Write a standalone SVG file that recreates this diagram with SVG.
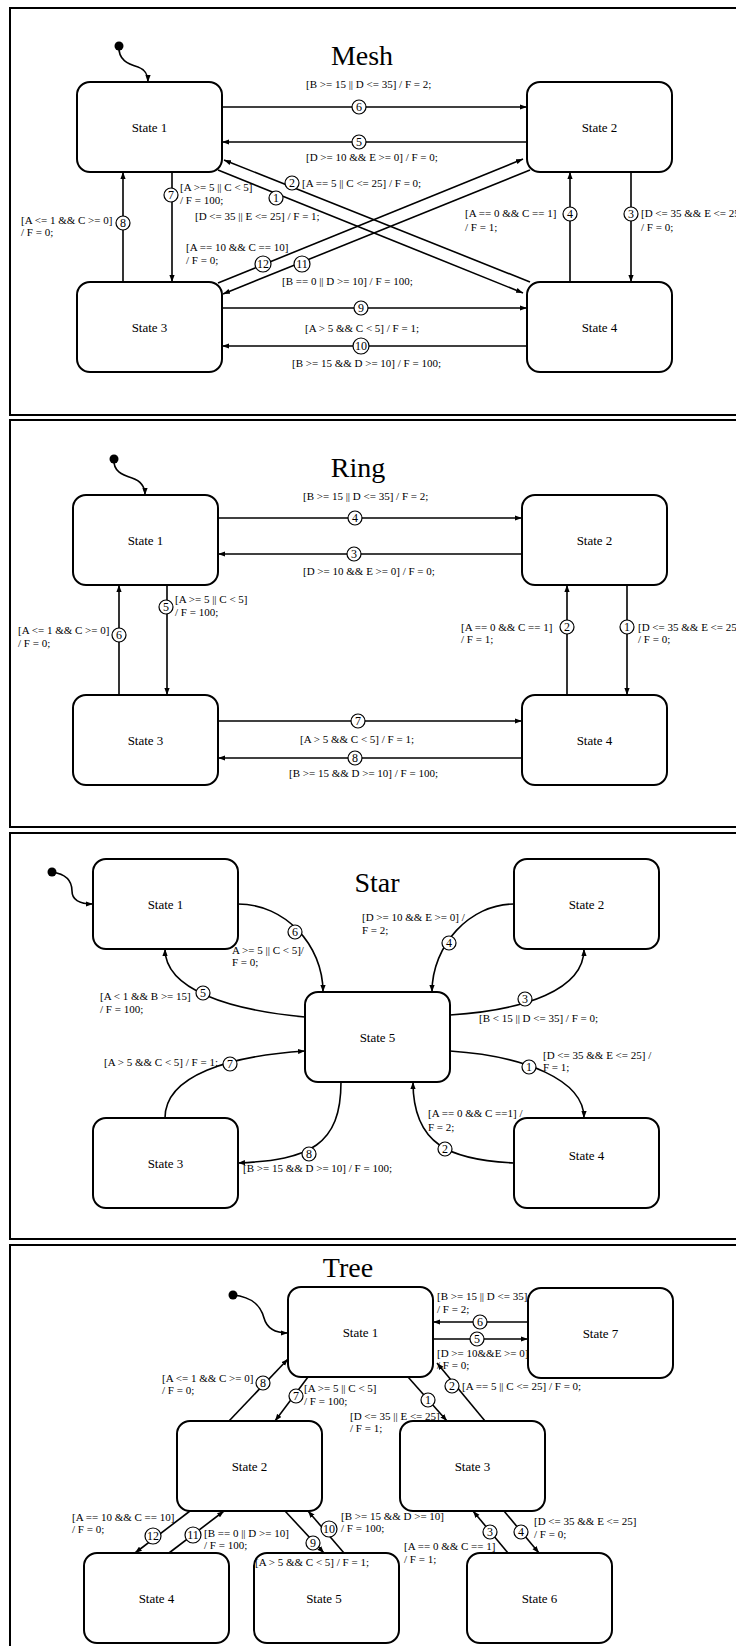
<svg xmlns="http://www.w3.org/2000/svg" width="736" height="1646" viewBox="0 0 736 1646">
  <defs>
    <marker id="arr" markerWidth="8" markerHeight="6" refX="7" refY="3" orient="auto" markerUnits="userSpaceOnUse">
      <path d="M0,0.4 L7,3 L0,5.6 z" fill="#000"/>
    </marker>
    <style>
      text { font-family: "Liberation Serif", "Times New Roman", serif; fill: #000; }
      .frame { fill: none; stroke: #000; stroke-width: 2; }
      .title { font-size: 28px; text-anchor: middle; }
      .node rect { fill: #fff; stroke: #000; stroke-width: 2; }
      .node text { font-size: 13px; text-anchor: middle; }
      .edge { fill: none; stroke: #000; stroke-width: 1.6; marker-end: url(#arr); }
      .tag circle { fill: #fff; stroke: #000; stroke-width: 1.2; }
      .tag text { font-size: 12px; text-anchor: middle; }
      .lbl { font-size: 11px; }
      .start { fill: #000; }
    </style>
  </defs>
  <rect width="736" height="1646" fill="#fff"/>

  <!-- ===================== Mesh ===================== -->
  <g id="mesh">
    <rect class="frame" x="10" y="8" width="760" height="407"/>
    <text class="title" x="362" y="65">Mesh</text>
    <g id="mesh-s1" class="node"><rect x="77" y="82" width="145" height="90" rx="13"/><text x="149.5" y="131.5">State 1</text></g>
    <g id="mesh-s2" class="node"><rect x="527" y="82" width="145" height="90" rx="13"/><text x="599.5" y="131.5">State 2</text></g>
    <g id="mesh-s3" class="node"><rect x="77" y="282" width="145" height="90" rx="13"/><text x="149.5" y="331.5">State 3</text></g>
    <g id="mesh-s4" class="node"><rect x="527" y="282" width="145" height="90" rx="13"/><text x="599.5" y="331.5">State 4</text></g>
    <g id="mesh-connectors">
      <circle class="start" cx="119" cy="46" r="4.5"/>
      <path class="edge" d="M119,46 C118,60 128,64 138,67 C146,70 148,75 148,82"/>
      <path class="edge" d="M222,107 H527"/>
      <path class="edge" d="M527,142 H222"/>
      <path class="edge" d="M172,172 V282"/>
      <path class="edge" d="M123,282 V172"/>
      <path class="edge" d="M570,282 V172"/>
      <path class="edge" d="M631,172 V282"/>
      <path class="edge" d="M222,308 H527"/>
      <path class="edge" d="M527,346 H222"/>
      <path class="edge" d="M218,170 L523,293"/>
      <path class="edge" d="M530,282 L224,160"/>
      <path class="edge" d="M218,283 L523,159"/>
      <path class="edge" d="M530,170 L223,294"/>
      <g class="tag"><circle cx="359" cy="107" r="7"/><text x="359" y="111.2">6</text></g>
      <g class="tag"><circle cx="359" cy="142" r="7"/><text x="359" y="146.2">5</text></g>
      <g class="tag"><circle cx="171" cy="195" r="7"/><text x="171" y="199.2">7</text></g>
      <g class="tag"><circle cx="123" cy="223" r="7"/><text x="123" y="227.2">8</text></g>
      <g class="tag"><circle cx="570" cy="214" r="7"/><text x="570" y="218.2">4</text></g>
      <g class="tag"><circle cx="631" cy="214" r="7"/><text x="631" y="218.2">3</text></g>
      <g class="tag"><circle cx="361" cy="308" r="7"/><text x="361" y="312.2">9</text></g>
      <g class="tag"><circle cx="361" cy="346" r="8"/><text x="361" y="350.2">10</text></g>
      <g class="tag"><circle cx="276" cy="198" r="7"/><text x="276" y="202.2">1</text></g>
      <g class="tag"><circle cx="292" cy="183" r="7"/><text x="292" y="187.2">2</text></g>
      <g class="tag"><circle cx="263" cy="264" r="8"/><text x="263" y="268.2">12</text></g>
      <g class="tag"><circle cx="302" cy="264" r="8"/><text x="302" y="268.2">11</text></g>
      <text class="lbl" x="306" y="88">[B &gt;= 15 || D &lt;= 35] / F = 2;</text>
      <text class="lbl" x="306" y="161">[D &gt;= 10 &amp;&amp; E &gt;= 0] / F = 0;</text>
      <text class="lbl" x="302" y="187">[A == 5 || C &lt;= 25] / F = 0;</text>
      <text class="lbl" x="195" y="220">[D &lt;= 35 || E &lt;= 25] / F = 1;</text>
      <text class="lbl" x="180" y="191">[A &gt;= 5 || C &lt; 5]</text>
      <text class="lbl" x="180" y="204">/ F = 100;</text>
      <text class="lbl" x="21" y="224">[A &lt;= 1 &amp;&amp; C &gt;= 0]</text>
      <text class="lbl" x="21" y="236">/ F = 0;</text>
      <text class="lbl" x="186" y="251">[A == 10 &amp;&amp; C == 10]</text>
      <text class="lbl" x="186" y="264">/ F = 0;</text>
      <text class="lbl" x="282" y="285">[B == 0 || D &gt;= 10] / F = 100;</text>
      <text class="lbl" x="465" y="217">[A == 0 &amp;&amp; C == 1]</text>
      <text class="lbl" x="465" y="231">/ F = 1;</text>
      <text class="lbl" x="641" y="217">[D &lt;= 35 &amp;&amp; E &lt;= 25]</text>
      <text class="lbl" x="641" y="231">/ F = 0;</text>
      <text class="lbl" x="305" y="332">[A &gt; 5 &amp;&amp; C &lt; 5] / F = 1;</text>
      <text class="lbl" x="292" y="367">[B &gt;= 15 &amp;&amp; D &gt;= 10] / F = 100;</text>
    </g>
  </g>

  <!-- ===================== Ring ===================== -->
  <g id="ring">
    <rect class="frame" x="10" y="420" width="760" height="407"/>
    <text class="title" x="358" y="477">Ring</text>
    <g id="ring-s1" class="node"><rect x="73" y="495" width="145" height="90" rx="13"/><text x="145.5" y="544.5">State 1</text></g>
    <g id="ring-s2" class="node"><rect x="522" y="495" width="145" height="90" rx="13"/><text x="594.5" y="544.5">State 2</text></g>
    <g id="ring-s3" class="node"><rect x="73" y="695" width="145" height="90" rx="13"/><text x="145.5" y="744.5">State 3</text></g>
    <g id="ring-s4" class="node"><rect x="522" y="695" width="145" height="90" rx="13"/><text x="594.5" y="744.5">State 4</text></g>
    <g id="ring-connectors">
      <circle class="start" cx="114" cy="459" r="4.5"/>
      <path class="edge" d="M114,459 C113,471 122,475 132,478 C141,481 145,487 145,495"/>
      <path class="edge" d="M218,518 H522"/>
      <path class="edge" d="M522,554 H218"/>
      <path class="edge" d="M167,585 V695"/>
      <path class="edge" d="M119,695 V585"/>
      <path class="edge" d="M567,695 V585"/>
      <path class="edge" d="M627,585 V695"/>
      <path class="edge" d="M218,721 H522"/>
      <path class="edge" d="M522,758 H218"/>
      <g class="tag"><circle cx="355" cy="518" r="7"/><text x="355" y="522.2">4</text></g>
      <g class="tag"><circle cx="354" cy="554" r="7"/><text x="354" y="558.2">3</text></g>
      <g class="tag"><circle cx="166" cy="607" r="7"/><text x="166" y="611.2">5</text></g>
      <g class="tag"><circle cx="119" cy="635" r="7"/><text x="119" y="639.2">6</text></g>
      <g class="tag"><circle cx="567" cy="627" r="7"/><text x="567" y="631.2">2</text></g>
      <g class="tag"><circle cx="627" cy="627" r="7"/><text x="627" y="631.2">1</text></g>
      <g class="tag"><circle cx="358" cy="721" r="7"/><text x="358" y="725.2">7</text></g>
      <g class="tag"><circle cx="355" cy="758" r="7"/><text x="355" y="762.2">8</text></g>
      <text class="lbl" x="303" y="500">[B &gt;= 15 || D &lt;= 35] / F = 2;</text>
      <text class="lbl" x="303" y="575">[D &gt;= 10 &amp;&amp; E &gt;= 0] / F = 0;</text>
      <text class="lbl" x="175" y="603">[A &gt;= 5 || C &lt; 5]</text>
      <text class="lbl" x="175" y="616">/ F = 100;</text>
      <text class="lbl" x="18" y="634">[A &lt;= 1 &amp;&amp; C &gt;= 0]</text>
      <text class="lbl" x="18" y="647">/ F = 0;</text>
      <text class="lbl" x="461" y="631">[A == 0 &amp;&amp; C == 1]</text>
      <text class="lbl" x="461" y="643">/ F = 1;</text>
      <text class="lbl" x="638" y="631">[D &lt;= 35 &amp;&amp; E &lt;= 25]</text>
      <text class="lbl" x="638" y="643">/ F = 0;</text>
      <text class="lbl" x="300" y="743">[A &gt; 5 &amp;&amp; C &lt; 5] / F = 1;</text>
      <text class="lbl" x="289" y="777">[B &gt;= 15 &amp;&amp; D &gt;= 10] / F = 100;</text>
    </g>
  </g>

  <!-- ===================== Star ===================== -->
  <g id="star">
    <rect class="frame" x="10" y="833" width="760" height="406"/>
    <text class="title" x="377" y="892">Star</text>
    <g id="star-s1" class="node"><rect x="93" y="859" width="145" height="90" rx="13"/><text x="165.5" y="908.5">State 1</text></g>
    <g id="star-s2" class="node"><rect x="514" y="859" width="145" height="90" rx="13"/><text x="586.5" y="908.5">State 2</text></g>
    <g id="star-s5" class="node"><rect x="305" y="992" width="145" height="90" rx="13"/><text x="377.5" y="1041.5">State 5</text></g>
    <g id="star-s3" class="node"><rect x="93" y="1118" width="145" height="90" rx="13"/><text x="165.5" y="1167.5">State 3</text></g>
    <g id="star-s4" class="node"><rect x="514" y="1118" width="145" height="90" rx="13"/><text x="586.5" y="1159.5">State 4</text></g>
    <g id="star-connectors">
      <circle class="start" cx="52" cy="872" r="4.5"/>
      <path class="edge" d="M52,872 C66,874 72,881 72,891 C72,900 80,904 93,904"/>
      <path class="edge" d="M238,904 C285,904 323,945 323,992"/>
      <path class="edge" d="M514,904 C470,904 432,945 432,992"/>
      <path class="edge" d="M305,1017 C230,1010 165,990 165,949"/>
      <path class="edge" d="M450,1015 C525,1010 584,990 584,949"/>
      <path class="edge" d="M450,1051 C525,1056 584,1080 584,1118"/>
      <path class="edge" d="M165,1118 C165,1075 230,1056 305,1051"/>
      <path class="edge" d="M341,1082 C341,1145 310,1160 238,1163"/>
      <path class="edge" d="M514,1163 C450,1160 413,1145 413,1082"/>
      <g class="tag"><circle cx="295" cy="932" r="7"/><text x="295" y="936.2">6</text></g>
      <g class="tag"><circle cx="449" cy="943" r="7"/><text x="449" y="947.2">4</text></g>
      <g class="tag"><circle cx="203" cy="993" r="7"/><text x="203" y="997.2">5</text></g>
      <g class="tag"><circle cx="525" cy="999" r="7"/><text x="525" y="1003.2">3</text></g>
      <g class="tag"><circle cx="529" cy="1067" r="7"/><text x="529" y="1071.2">1</text></g>
      <g class="tag"><circle cx="230" cy="1064" r="7"/><text x="230" y="1068.2">7</text></g>
      <g class="tag"><circle cx="309" cy="1154" r="7"/><text x="309" y="1158.2">8</text></g>
      <g class="tag"><circle cx="445" cy="1149" r="7"/><text x="445" y="1153.2">2</text></g>
      <text class="lbl" x="232" y="954">A &gt;= 5 || C &lt; 5]/</text>
      <text class="lbl" x="232" y="966">F = 0;</text>
      <text class="lbl" x="362" y="921">[D &gt;= 10 &amp;&amp; E &gt;= 0] /</text>
      <text class="lbl" x="362" y="934">F = 2;</text>
      <text class="lbl" x="100" y="1000">[A &lt; 1 &amp;&amp; B &gt;= 15]</text>
      <text class="lbl" x="100" y="1013">/ F = 100;</text>
      <text class="lbl" x="479" y="1022">[B &lt; 15 || D &lt;= 35] / F = 0;</text>
      <text class="lbl" x="543" y="1059">[D &lt;= 35 &amp;&amp; E &lt;= 25] /</text>
      <text class="lbl" x="543" y="1071">F = 1;</text>
      <text class="lbl" x="428" y="1117">[A == 0 &amp;&amp; C ==1] /</text>
      <text class="lbl" x="428" y="1131">F = 2;</text>
      <text class="lbl" x="104" y="1066">[A &gt; 5 &amp;&amp; C &lt; 5] / F = 1;</text>
      <text class="lbl" x="243" y="1172">[B &gt;= 15 &amp;&amp; D &gt;= 10] / F = 100;</text>
    </g>
  </g>

  <!-- ===================== Tree ===================== -->
  <g id="tree">
    <rect class="frame" x="10" y="1245" width="760" height="420"/>
    <text class="title" x="348" y="1277">Tree</text>
    <g id="tree-s1" class="node"><rect x="288" y="1287" width="145" height="90" rx="13"/><text x="360.5" y="1336.5">State 1</text></g>
    <g id="tree-s7" class="node"><rect x="528" y="1288" width="145" height="90" rx="13"/><text x="600.5" y="1337.5">State 7</text></g>
    <g id="tree-s2" class="node"><rect x="177" y="1421" width="145" height="90" rx="13"/><text x="249.5" y="1470.5">State 2</text></g>
    <g id="tree-s3" class="node"><rect x="400" y="1421" width="145" height="90" rx="13"/><text x="472.5" y="1470.5">State 3</text></g>
    <g id="tree-s4" class="node"><rect x="84" y="1553" width="145" height="90" rx="13"/><text x="156.5" y="1602.5">State 4</text></g>
    <g id="tree-s5" class="node"><rect x="254" y="1553" width="145" height="90" rx="13"/><text x="324" y="1602.5">State 5</text></g>
    <g id="tree-s6" class="node"><rect x="467" y="1553" width="145" height="90" rx="13"/><text x="539.5" y="1602.5">State 6</text></g>
    <g id="tree-connectors">
      <circle class="start" cx="233" cy="1295" r="4.5"/>
      <path class="edge" d="M233,1295 C254,1297 261,1307 264,1318 C267,1329 276,1333 288,1333"/>
      <path class="edge" d="M528,1322 H433"/>
      <path class="edge" d="M433,1339 H528"/>
      <path class="edge" d="M485,1421 L437,1363"/>
      <path class="edge" d="M408,1377 L447,1421"/>
      <path class="edge" d="M229,1421 L288,1359"/>
      <path class="edge" d="M308,1377 L275,1421"/>
      <path class="edge" d="M190,1511 L135,1553"/>
      <path class="edge" d="M169,1553 L224,1511"/>
      <path class="edge" d="M285,1511 L324,1553"/>
      <path class="edge" d="M344,1553 L308,1511"/>
      <path class="edge" d="M508,1553 L473,1511"/>
      <path class="edge" d="M504,1511 L539,1553"/>
      <g class="tag"><circle cx="480" cy="1322" r="7"/><text x="480" y="1326.2">6</text></g>
      <g class="tag"><circle cx="477" cy="1339" r="7"/><text x="477" y="1343.2">5</text></g>
      <g class="tag"><circle cx="452" cy="1386" r="7"/><text x="452" y="1390.2">2</text></g>
      <g class="tag"><circle cx="428" cy="1400" r="7"/><text x="428" y="1404.2">1</text></g>
      <g class="tag"><circle cx="263" cy="1383" r="7"/><text x="263" y="1387.2">8</text></g>
      <g class="tag"><circle cx="296" cy="1396" r="7"/><text x="296" y="1400.2">7</text></g>
      <g class="tag"><circle cx="153" cy="1536" r="8"/><text x="153" y="1540.2">12</text></g>
      <g class="tag"><circle cx="193" cy="1535" r="8"/><text x="193" y="1539.2">11</text></g>
      <g class="tag"><circle cx="313" cy="1543" r="7"/><text x="313" y="1547.2">9</text></g>
      <g class="tag"><circle cx="329" cy="1529" r="8"/><text x="329" y="1533.2">10</text></g>
      <g class="tag"><circle cx="490" cy="1532" r="7"/><text x="490" y="1536.2">3</text></g>
      <g class="tag"><circle cx="521" cy="1532" r="7"/><text x="521" y="1536.2">4</text></g>
      <text class="lbl" x="437" y="1300">[B &gt;= 15 || D &lt;= 35]</text>
      <text class="lbl" x="437" y="1313">/ F = 2;</text>
      <text class="lbl" x="437" y="1357">[D &gt;= 10&amp;&amp;E &gt;= 0]</text>
      <text class="lbl" x="437" y="1369">/ F = 0;</text>
      <text class="lbl" x="462" y="1390">[A == 5 || C &lt;= 25] / F = 0;</text>
      <text class="lbl" x="350" y="1420">[D &lt;= 35 || E &lt;= 25]</text>
      <text class="lbl" x="350" y="1432">/ F = 1;</text>
      <text class="lbl" x="162" y="1382">[A &lt;= 1 &amp;&amp; C &gt;= 0]</text>
      <text class="lbl" x="162" y="1394">/ F = 0;</text>
      <text class="lbl" x="304" y="1392">[A &gt;= 5 || C &lt; 5]</text>
      <text class="lbl" x="304" y="1405">/ F = 100;</text>
      <text class="lbl" x="72" y="1521">[A == 10 &amp;&amp; C == 10]</text>
      <text class="lbl" x="72" y="1533">/ F = 0;</text>
      <text class="lbl" x="204" y="1537">[B == 0 || D &gt;= 10]</text>
      <text class="lbl" x="204" y="1549">/ F = 100;</text>
      <text class="lbl" x="341" y="1520">[B &gt;= 15 &amp;&amp; D &gt;= 10]</text>
      <text class="lbl" x="341" y="1532">/ F = 100;</text>
      <text class="lbl" x="255" y="1566">[A &gt; 5 &amp;&amp; C &lt; 5] / F = 1;</text>
      <text class="lbl" x="404" y="1550">[A == 0 &amp;&amp; C == 1]</text>
      <text class="lbl" x="404" y="1563">/ F = 1;</text>
      <text class="lbl" x="534" y="1525">[D &lt;= 35 &amp;&amp; E &lt;= 25]</text>
      <text class="lbl" x="534" y="1538">/ F = 0;</text>
    </g>
  </g>
</svg>
